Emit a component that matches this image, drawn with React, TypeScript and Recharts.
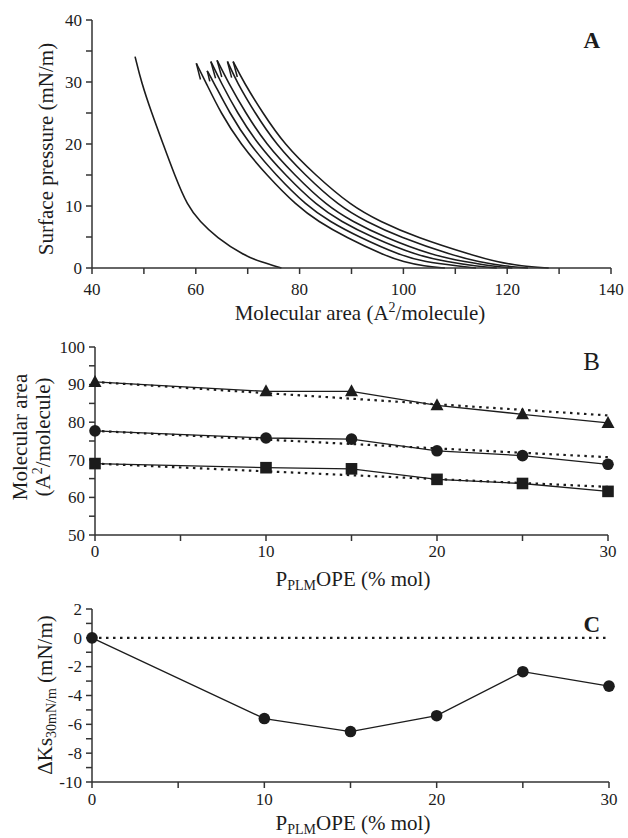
import React from "react";
import { LineChart, Line, XAxis, YAxis, ReferenceLine } from "recharts";

const FONT = "'Liberation Serif', 'Times New Roman', serif";
const INK = "#1c1c1c";

// ---- panel A: compression isotherms (area A^2/molecule, pressure mN/m)
const isoPure = [
  { x: 48.3, y: 34.1 }, { x: 49.5, y: 30 }, { x: 51.5, y: 25 }, { x: 53.7, y: 20 },
  { x: 55.9, y: 15 }, { x: 58.4, y: 10 }, { x: 60.8, y: 7.5 }, { x: 63.9, y: 5 },
  { x: 69.3, y: 2 }, { x: 72.5, y: 1 }, { x: 76.5, y: 0 },
];
const isoMix1 = [
  { x: 60.1, y: 33.0 }, { x: 61.9, y: 30 }, { x: 64.8, y: 25 }, { x: 68.6, y: 20 },
  { x: 73.6, y: 15 }, { x: 79.5, y: 10 }, { x: 83.6, y: 7.5 }, { x: 88.8, y: 5 },
  { x: 96.4, y: 2 }, { x: 100.0, y: 1 }, { x: 104.0, y: 0.3 }, { x: 108.0, y: 0 },
];
const isoMix2 = [
  { x: 62.2, y: 31.8 }, { x: 63.4, y: 30 }, { x: 66.5, y: 25 }, { x: 70.3, y: 20 },
  { x: 75.4, y: 15 }, { x: 81.4, y: 10 }, { x: 85.8, y: 7.5 }, { x: 91.4, y: 5 },
  { x: 99.5, y: 2 }, { x: 104.0, y: 1 }, { x: 110.8, y: 0.3 }, { x: 114.0, y: 0 },
];
const isoMix3 = [
  { x: 62.9, y: 33.3 }, { x: 64.8, y: 30 }, { x: 68.0, y: 25 }, { x: 71.9, y: 20 },
  { x: 77.2, y: 15 }, { x: 83.4, y: 10 }, { x: 88.0, y: 7.5 }, { x: 93.8, y: 5 },
  { x: 102.6, y: 2 }, { x: 108.5, y: 1 }, { x: 114.0, y: 0.3 }, { x: 118.0, y: 0 },
];
const isoMix4 = [
  { x: 64.1, y: 33.5 }, { x: 66.2, y: 30 }, { x: 69.6, y: 25 }, { x: 73.5, y: 20 },
  { x: 79.0, y: 15 }, { x: 85.3, y: 10 }, { x: 90.2, y: 7.5 }, { x: 96.2, y: 5 },
  { x: 105.7, y: 2 }, { x: 112.0, y: 1 }, { x: 117.0, y: 0.3 }, { x: 121.0, y: 0 },
];
const isoMix5 = [
  { x: 66.1, y: 33.3 }, { x: 67.9, y: 30 }, { x: 71.4, y: 25 }, { x: 75.4, y: 20 },
  { x: 81.0, y: 15 }, { x: 87.6, y: 10 }, { x: 92.8, y: 7.5 }, { x: 99.2, y: 5 },
  { x: 109.6, y: 2 }, { x: 114.5, y: 1 }, { x: 119.5, y: 0.3 }, { x: 124.0, y: 0 },
];
const isoMix6 = [
  { x: 67.2, y: 33.3 }, { x: 69.2, y: 30 }, { x: 72.9, y: 25 }, { x: 77.0, y: 20 },
  { x: 83.0, y: 15 }, { x: 90.0, y: 10 }, { x: 95.5, y: 7.5 }, { x: 102.3, y: 5 },
  { x: 113.5, y: 2 }, { x: 118.0, y: 1 }, { x: 122.7, y: 0.3 }, { x: 128.0, y: 0 },
];
const isotherms = [isoPure, isoMix1, isoMix2, isoMix3, isoMix4, isoMix5, isoMix6];

// collapse spikes at the top of the mixed films (peak -> drop)
const collapse1 = [{ x: 60.1, y: 33.0 }, { x: 60.9, y: 30.4 }];
const collapse2 = [{ x: 62.2, y: 31.8 }, { x: 62.7, y: 30.1 }];
const collapse3 = [{ x: 62.9, y: 33.3 }, { x: 63.8, y: 30.6 }];
const collapse4 = [{ x: 64.1, y: 33.5 }, { x: 65.0, y: 30.8 }];
const collapse5 = [{ x: 66.1, y: 33.3 }, { x: 66.9, y: 30.7 }];
const collapse6 = [{ x: 67.2, y: 33.3 }, { x: 68.0, y: 30.8 }];
const collapses = [collapse1, collapse2, collapse3, collapse4, collapse5, collapse6];

const areaTicks = [40, 50, 60, 70, 80, 90, 100, 110, 120, 130, 140];
const areaLabels = [40, 60, 80, 100, 120, 140];
const pressureTicks = [0, 5, 10, 15, 20, 25, 30, 35, 40];
const pressureLabels = [0, 10, 20, 30, 40];

// ---- panel B: mean molecular area vs PPLMOPE content
const plmConc = [0, 10, 15, 20, 25, 30];
const areaTriangle = [90.7, 88.2, 88.2, 84.5, 82.1, 79.8];
const areaCircle = [77.7, 75.8, 75.5, 72.4, 71.1, 68.8];
const areaSquare = [69.0, 67.9, 67.6, 64.8, 63.7, 61.6];
const idealConc = [0, 30];
const idealTriangle = [90.7, 81.8];
const idealCircle = [77.7, 70.7];
const idealSquare = [69.0, 62.8];

const concTicks = [0, 5, 10, 15, 20, 25, 30];
const concLabels = [0, 10, 20, 30];
const molTicks = [50, 55, 60, 65, 70, 75, 80, 85, 90, 95, 100];
const molLabels = [50, 60, 70, 80, 90, 100];

// ---- panel C: excess compressional modulus
const deltaKs = [0, -5.6, -6.5, -5.4, -2.35, -3.35];
const ksTicks = [-10, -9, -8, -7, -6, -5, -4, -3, -2, -1, 0, 1, 2];
const ksLabels = [-10, -8, -6, -4, -2, 0, 2];

const rows = (xs: number[], ys: number[]) => xs.map((c, i) => ({ c, v: ys[i] }));

const txt = { fontFamily: FONT, fill: INK } as const;

const xTick = (labels: number[], dy: number) => (p: any) => {
  const v = p.payload.value;
  if (!labels.includes(v)) return <g />;
  return <text x={p.x} y={p.y + dy} textAnchor="middle" fontSize={17} {...txt}>{v}</text>;
};
const yTick = (labels: number[]) => (p: any) => {
  const v = p.payload.value;
  if (!labels.includes(v)) return <g />;
  return <text x={p.x - 2} y={p.y} dy="0.34em" textAnchor="end" fontSize={17} {...txt}>{v}</text>;
};

const Tri = (p: any) => (
  <path key={`t${p.index}`} d={`M${p.cx},${p.cy - 7} L${p.cx + 6.5},${p.cy + 5} L${p.cx - 6.5},${p.cy + 5} Z`} fill={INK} />
);
const Dot = (p: any) => <circle key={`c${p.index}`} cx={p.cx} cy={p.cy} r={5.8} fill={INK} />;
const Sq = (p: any) => <rect key={`s${p.index}`} x={p.cx - 5.8} y={p.cy - 5.8} width={11.6} height={11.6} fill={INK} />;

const axisLine = { stroke: "#333", strokeWidth: 1.5 };
const frameLine = { stroke: "#555", strokeWidth: 1.5 };

export default function App() {
  return (
    <div style={{ position: "absolute", left: 0, top: 0, width: 628, height: 838, background: "#fff" }}>
      {/* A */}
      <div style={{ position: "absolute", left: 0, top: 0 }}>
        <LineChart width={628} height={300} margin={{ top: 20, right: 17, left: 0, bottom: 0 }}>
          <XAxis dataKey="x" type="number" domain={[40, 140]} ticks={areaTicks} interval={0}
            tick={xTick(areaLabels, 19)} tickSize={6} axisLine={axisLine} tickLine={axisLine} height={32} allowDuplicatedCategory={false} />
          <XAxis xAxisId="top" orientation="top" type="number" domain={[40, 140]} tick={false} tickLine={false} axisLine={frameLine} height={0} />
          <YAxis type="number" domain={[0, 40]} ticks={pressureTicks} interval={0} tick={yTick(pressureLabels)}
            tickSize={6} axisLine={axisLine} tickLine={axisLine} width={92} />
          <YAxis yAxisId="right" orientation="right" type="number" domain={[0, 40]} tick={false} tickLine={false} axisLine={frameLine} width={0} />
          {isotherms.map((d, i) => (
            <Line key={`iso${i}`} data={d} dataKey="y" type="basis" stroke={INK} strokeWidth={1.6} dot={false} activeDot={false} isAnimationActive={false} />
          ))}
          {collapses.map((d, i) => (
            <Line key={`col${i}`} data={d} dataKey="y" type="linear" stroke={INK} strokeWidth={1.5} dot={false} activeDot={false} isAnimationActive={false} />
          ))}
        </LineChart>
      </div>

      {/* B */}
      <div style={{ position: "absolute", left: 0, top: 320 }}>
        <LineChart width={628} height={245} margin={{ top: 27, right: 20, left: 0, bottom: 0 }}>
          <XAxis dataKey="c" type="number" domain={[0, 30]} ticks={concTicks} interval={0}
            tick={xTick(concLabels, 14)} tickSize={6} axisLine={axisLine} tickLine={axisLine} height={30} allowDuplicatedCategory={false} />
          <XAxis xAxisId="top" orientation="top" type="number" domain={[0, 30]} tick={false} tickLine={false} axisLine={frameLine} height={0} />
          <YAxis type="number" domain={[50, 100]} ticks={molTicks} interval={0} tick={yTick(molLabels)}
            tickSize={6} axisLine={axisLine} tickLine={axisLine} width={95} />
          <YAxis yAxisId="right" orientation="right" type="number" domain={[50, 100]} tick={false} tickLine={false} axisLine={frameLine} width={0} />
          {[idealTriangle, idealCircle, idealSquare].map((d, i) => (
            <Line key={`i${i}`} data={rows(idealConc, d)} dataKey="v" stroke={INK} strokeWidth={2.2} strokeDasharray="2.5 4.5"
              dot={false} activeDot={false} isAnimationActive={false} />
          ))}
          <Line data={rows(plmConc, areaTriangle)} dataKey="v" stroke={INK} strokeWidth={1.3} dot={Tri} activeDot={false} isAnimationActive={false} />
          <Line data={rows(plmConc, areaCircle)} dataKey="v" stroke={INK} strokeWidth={1.3} dot={Dot} activeDot={false} isAnimationActive={false} />
          <Line data={rows(plmConc, areaSquare)} dataKey="v" stroke={INK} strokeWidth={1.3} dot={Sq} activeDot={false} isAnimationActive={false} />
        </LineChart>
      </div>

      {/* C */}
      <div style={{ position: "absolute", left: 0, top: 590 }}>
        <LineChart width={628} height={220} margin={{ top: 19, right: 19, left: 0, bottom: 0 }}>
          <XAxis dataKey="c" type="number" domain={[0, 30]} ticks={concTicks} interval={0}
            tick={xTick(concLabels, 15)} tickSize={6} axisLine={axisLine} tickLine={axisLine} height={28} allowDuplicatedCategory={false} />
          <XAxis xAxisId="top" orientation="top" type="number" domain={[0, 30]} tick={false} tickLine={false} axisLine={frameLine} height={0} />
          <YAxis type="number" domain={[-10, 2]} ticks={ksTicks} interval={0} tick={yTick(ksLabels)}
            tickSize={6} axisLine={axisLine} tickLine={axisLine} width={92} />
          <YAxis yAxisId="right" orientation="right" type="number" domain={[-10, 2]} tick={false} tickLine={false} axisLine={frameLine} width={0} />
          <ReferenceLine y={0} stroke={INK} strokeWidth={2.2} strokeDasharray="2.5 4.5" />
          <Line data={rows(plmConc, deltaKs)} dataKey="v" stroke={INK} strokeWidth={1.3} dot={Dot} activeDot={false} isAnimationActive={false} />
        </LineChart>
      </div>

      {/* titles and panel letters */}
      <svg width={628} height={838} style={{ position: "absolute", left: 0, top: 0, pointerEvents: "none" }}>
        <g {...txt} fontSize={21}>
          <text x={46} y={149} transform="rotate(-90 46 149)" textAnchor="middle" dominantBaseline="central">Surface pressure (mN/m)</text>
          <text x={360} y={320} textAnchor="middle">
            Molecular area (A<tspan fontSize={14} dy={-8}>2</tspan><tspan dy={8}>/molecule)</tspan>
          </text>
          <text x={600} y={48} textAnchor="end" fontWeight="bold" fontSize={23}>A</text>

          <g transform="rotate(-90 0 0)">
            <text x={-437} y={27} textAnchor="middle">Molecular area</text>
            <text x={-437} y={50} textAnchor="middle">
              (A<tspan fontSize={14} dy={-8}>2</tspan><tspan dy={8}>/molecule)</tspan>
            </text>
          </g>
          <text x={353} y={586} textAnchor="middle">
            P<tspan fontSize={14} dy={4}>PLM</tspan><tspan dy={-4}>OPE (% mol)</tspan>
          </text>
          <text x={600} y={370} textAnchor="end" fontSize={25}>B</text>

          <g transform="rotate(-90 0 0)">
            <text x={-695} y={52} textAnchor="middle">
              ΔKs<tspan fontSize={14} dy={4}>30mN/m</tspan><tspan dy={-4}> (mN/m)</tspan>
            </text>
          </g>
          <text x={353} y={830} textAnchor="middle">
            P<tspan fontSize={14} dy={4}>PLM</tspan><tspan dy={-4}>OPE (% mol)</tspan>
          </text>
          <text x={600} y={632} textAnchor="end" fontWeight="bold" fontSize={23}>C</text>
        </g>
      </svg>
    </div>
  );
}
